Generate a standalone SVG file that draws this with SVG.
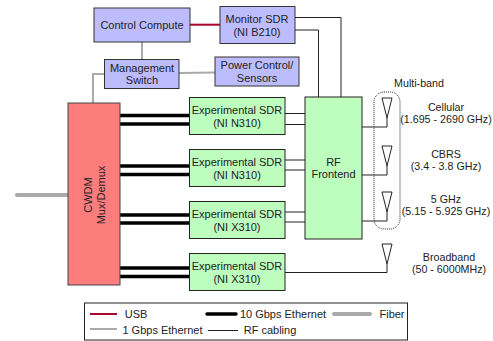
<svg xmlns="http://www.w3.org/2000/svg" width="493" height="341" viewBox="0 0 493 341">
<style>
text{font-family:"Liberation Sans",Arial,sans-serif;font-size:11px;fill:#222;text-anchor:middle}
.l{font-size:10.700px}
.b{fill:#bdbdfd;stroke:#333;stroke-width:1}
.g{fill:#bdfdbd;stroke:#222;stroke-width:1}
.r{fill:none;stroke:#222;stroke-width:1}
.e{fill:none;stroke:#000;stroke-width:3.500}
.m{fill:none;stroke:#aaa;stroke-width:2}
.f{fill:none;stroke:#aaa;stroke-width:4;stroke-linecap:round}
.u{fill:none;stroke:#a8072a;stroke-width:2}
</style>
<g id="connectors">
<path class="u" d="M190 24.700H220"/>
<path class="m" d="M142 42V59.500M179 73L215 72.500M104 74H93V103"/>
<path class="f" d="M17 195H68"/>
<path class="e" d="M120 115.500H190M120 124H190M120 166H190M120 174.500H190M120 215H190M120 223H190M120 268H190M120 276.500H190"/>
<path class="r" d="M295 17.500H341V97M295 30H318.500V97M285 113.500H305M285 124.500H305M285 160H305M285 170H305M285 212H305M285 222H305M285 272.500H387M362 127H387M362 175H387M362 221H387"/>
<path class="r" d="M382 98H392L387 118ZM387 118V127M382 146H392L387 166ZM387 166V175M382 192H392L387 212ZM387 212V221M382 244H392L387 264ZM387 264V272.500"/>
<rect x="374" y="92" width="26" height="137" rx="10" fill="none" stroke="#222" stroke-width="1" stroke-dasharray="1 1"/>
</g>
<g id="control-compute"><rect class="b" x="94" y="8" width="96" height="34"/><text x="142" y="29">Control Compute</text></g>
<g id="monitor-sdr"><rect class="b" x="220" y="6.500" width="75" height="37"/><text x="257" y="23">Monitor SDR</text><text x="257" y="35.500">(NI B210)</text></g>
<g id="management-switch"><rect class="b" x="104.500" y="59.500" width="74.500" height="29"/><text x="142" y="72">Management</text><text x="142" y="84">Switch</text></g>
<g id="power-control"><rect class="b" x="215" y="57" width="84" height="29"/><text x="257" y="69">Power Control/</text><text x="257" y="82">Sensors</text></g>
<g id="cwdm"><rect x="68" y="103" width="52" height="182" fill="#fd7d7d" stroke="#444"/><text transform="translate(92 195) rotate(-90)">CWDM</text><text transform="translate(104.500 195) rotate(-90)">Mux/Demux</text></g>
<g id="sdr-1"><rect class="g" x="189.500" y="97.500" width="95.500" height="37"/><text x="237" y="114">Experimental SDR</text><text x="237" y="126.500">(NI N310)</text></g>
<g id="sdr-2"><rect class="g" x="189.500" y="149.500" width="95.500" height="37"/><text x="237" y="166">Experimental SDR</text><text x="237" y="178.500">(NI N310)</text></g>
<g id="sdr-3"><rect class="g" x="189.500" y="201.500" width="95.500" height="37"/><text x="237" y="218">Experimental SDR</text><text x="237" y="230.500">(NI X310)</text></g>
<g id="sdr-4"><rect class="g" x="189.500" y="253.500" width="95.500" height="37"/><text x="237" y="270">Experimental SDR</text><text x="237" y="282.500">(NI X310)</text></g>
<g id="rf-frontend"><rect class="g" x="305" y="97" width="57" height="142"/><text x="333.500" y="166">RF</text><text x="333.500" y="178">Frontend</text></g>
<g id="antenna-labels">
<text class="l" x="419" y="87">Multi-band</text>
<text class="l" x="446" y="111">Cellular</text><text class="l" x="446" y="123">(1.695 - 2690 GHz)</text>
<text class="l" x="446" y="158">CBRS</text><text class="l" x="446" y="170">(3.4 - 3.8 GHz)</text>
<text class="l" x="446" y="203">5 GHz</text><text class="l" x="446" y="215">(5.15 - 5.925 GHz)</text>
<text class="l" x="449" y="261">Broadband</text><text class="l" x="449" y="273">(50 - 6000MHz)</text>
</g>
<g id="legend">
<rect x="84.500" y="303" width="323" height="37" fill="none" stroke="#222"/>
<path class="u" d="M90 314H117"/><path class="m" d="M90 329H117"/>
<path d="M207 314H236" fill="none" stroke="#000" stroke-width="3.500" stroke-linecap="round"/>
<path class="r" d="M208 330.500H238"/>
<path class="f" d="M334 314H370"/>
<text x="136" y="318">USB</text>
<text x="162.500" y="333.500">1 Gbps Ethernet</text>
<text x="283" y="318">10 Gbps Ethernet</text>
<text x="270" y="334">RF cabling</text>
<text x="392" y="318">Fiber</text>
</g>
</svg>
